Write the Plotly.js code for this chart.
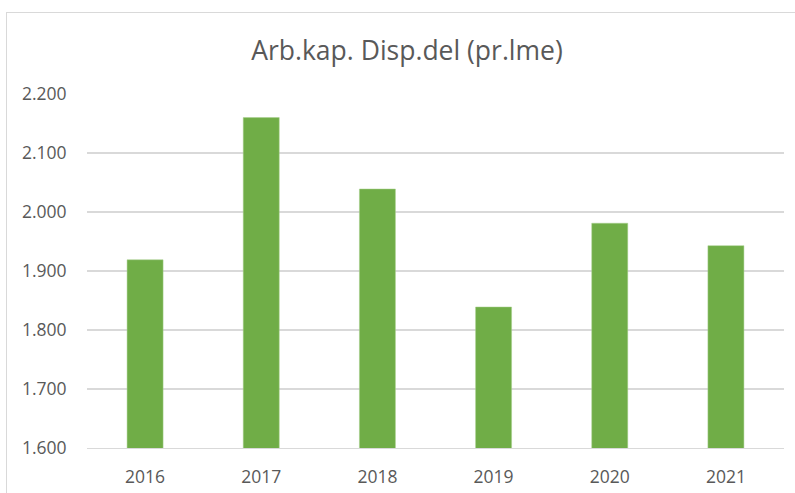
<!DOCTYPE html>
<html>
<head>
<meta charset="utf-8">
<script src="https://cdn.plot.ly/plotly-3.0.1.min.js"></script>
<style>
html,body{margin:0;padding:0;background:#fff;}
#chart{width:795px;height:493px;}
#frame{position:absolute;left:6px;top:12px;width:800px;height:500px;border:1px solid #d9d9d9;pointer-events:none;}
</style>
</head>
<body>
<div id="chart"></div>
<div id="frame"></div>
<script>
const years = ['2016','2017','2018','2019','2020','2021'];
const values = [1919, 2160, 2039, 1839, 1981, 1943];
const yTicks = [1600, 1700, 1800, 1900, 2000, 2100, 2200];

const trace = {
  type: 'bar',
  x: years,
  y: values,
  marker: {color: '#70ad47', line: {color: '#a9d08e', width: 0.5}},
  hoverinfo: 'x+y'
};

const layout = {
  width: 795, height: 493,
  margin: {l: 87, r: 11, t: 94, b: 45},
  paper_bgcolor: 'rgba(0,0,0,0)',
  plot_bgcolor: '#fff',
  separators: ',.',
  bargap: 0.69,
  font: {family: '"Open Sans", "Noto Sans", sans-serif', color: '#595959', size: 17},
  title: {text: 'Arb.kap. Disp.del (pr.lme)', xref: 'container', x: 407 / 795, xanchor: 'center', yanchor: 'middle', yref: 'container',
          font: {size: 26.5, color: '#595959', family: '"Open Sans", "Noto Sans", sans-serif'}},
  xaxis: {type: 'category', showgrid: false, showline: true, linecolor: '#d9d9d9', linewidth: 1,
          ticks: 'outside', ticklen: 13, tickcolor: 'rgba(0,0,0,0)', tickfont: {size: 17.5, color: '#595959'}},
  yaxis: {range: [1600, 2200], tickvals: yTicks, tickformat: ',.0f', showgrid: true, gridcolor: '#d9d9d9', gridwidth: 1.2,
          zeroline: false, showline: false, ticks: 'outside', ticklen: 16, tickcolor: 'rgba(0,0,0,0)',
          tickfont: {size: 17.5, color: '#595959'}},
  showlegend: false
};
layout.title.y = 1 - 51 / 493;

Plotly.newPlot('chart', [trace], layout, {displayModeBar: false, staticPlot: true});
</script>
</body>
</html>
